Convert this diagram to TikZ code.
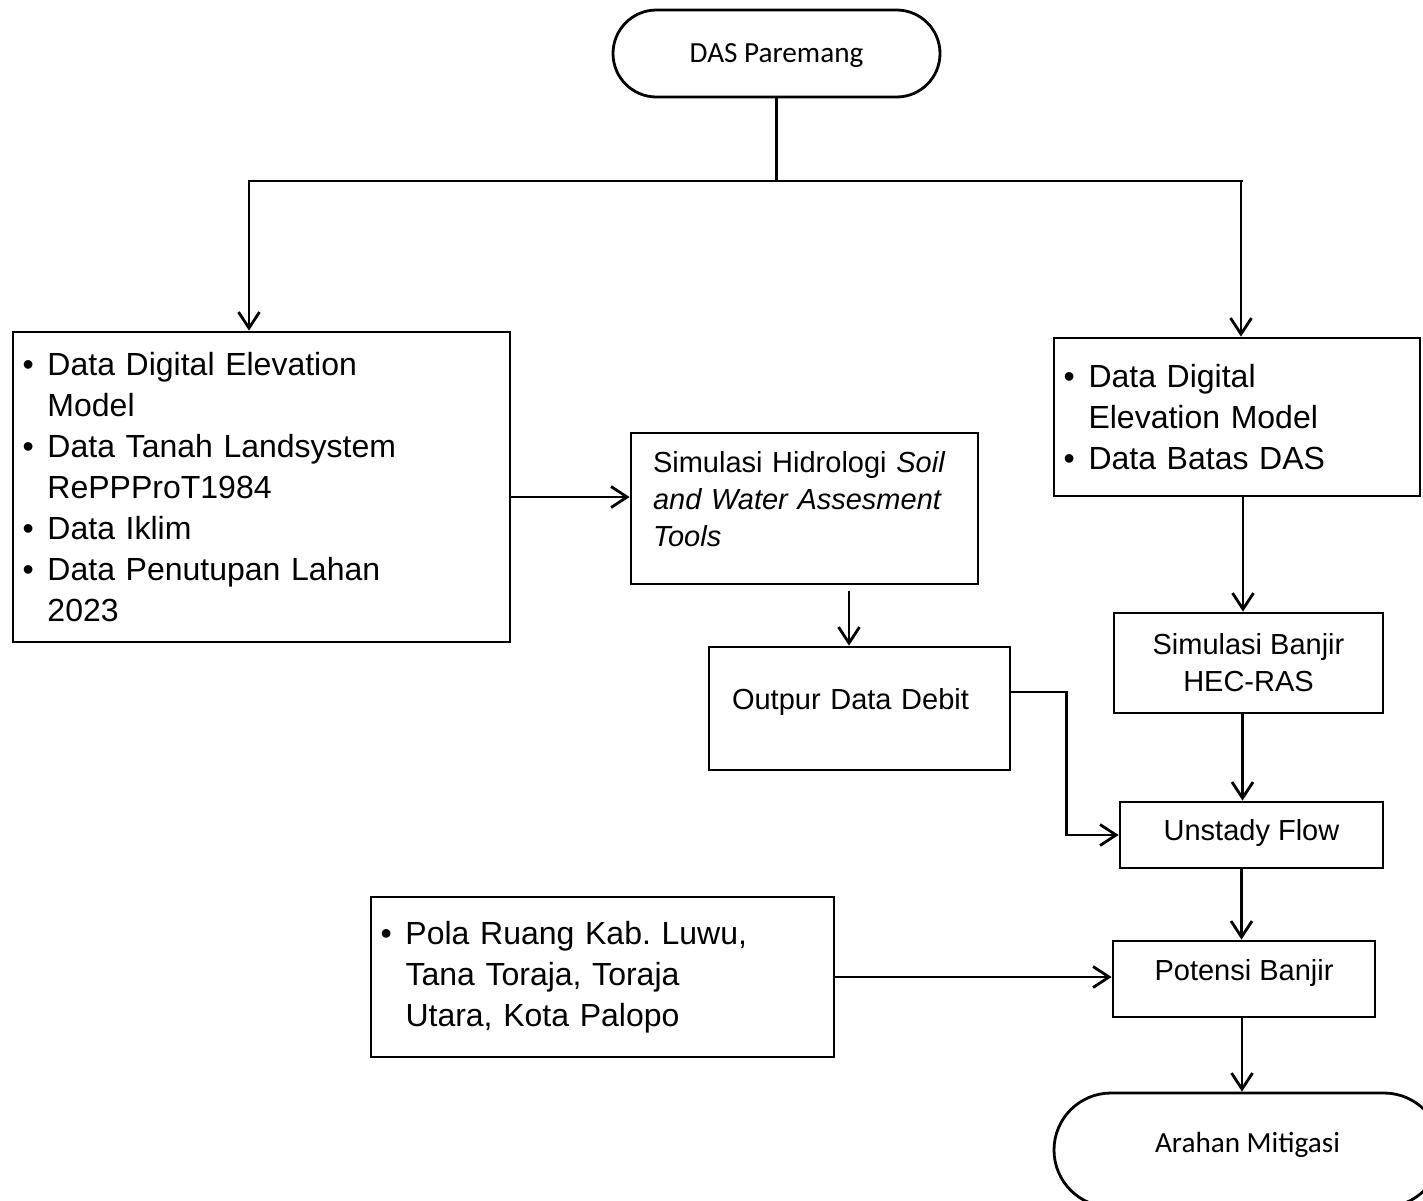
\documentclass[tikz,border=0pt]{standalone}
\usepackage{fontspec}
\setmainfont{Liberation Sans}
\newfontfamily\calibri{Carlito}
\usetikzlibrary{arrows.meta}
\frenchspacing

\newcommand{\bul}{\makebox[12.5pt][l]{\textbullet}}
\newcommand{\ind}{\hspace*{12.5pt}}

\tikzset{
	kotak/.style={draw, line width=1.4pt, inner ysep=0pt},
	terminal/.style={draw, line width=1.4pt, rounded corners=#1, inner sep=0pt, font=\calibri\fontsize{14.6}{17}\selectfont},
	panah/.style={line width=1.4pt, -{Straight Barb[length=8pt,width=10.5pt]}},
	garis/.style={line width=1.4pt},
	besar/.style={font=\fontsize{16}{20.5}\selectfont},
	sedang/.style={font=\fontsize{14.5}{18.5}\selectfont}
}

\begin{document}
\begin{tikzpicture}[x=0.5pt, y=-0.5pt]
	\useasboundingbox (0,0) rectangle (1423,1200);
	%Mulai
	\node[terminal=21.75pt, minimum width=163.5pt, text height=26.25pt, text depth=17.25pt] (das) at (776.5,53.5) {DAS Paremang};

	%Data masukan
	\node[kotak, besar, inner xsep=4.75pt, minimum height=155pt, text width=239pt, align=left] (dataL) at (261.5,487)
		{\bul Data Digital Elevation\\ \ind Model\\ \bul Data Tanah Landsystem\\ \ind RePPProT1984\\ \bul Data Iklim\\ \bul Data Penutupan Lahan\\ \ind 2023};
	\node[kotak, besar, inner xsep=4.75pt, minimum height=79pt, text width=173.5pt, align=left] (dataR) at (1237,417)
		{\bul Data Digital\\ \ind Elevation Model\\ \bul Data Batas DAS};
	\node[kotak, besar, inner xsep=4.75pt, minimum height=80pt, text width=222pt, align=left] (pola) at (602.5,977)
		{\bul Pola Ruang Kab. Luwu,\\ \ind Tana Toraja, Toraja\\ \ind Utara, Kota Palopo};

	%Proses
	\node[kotak, sedang, inner xsep=11pt, text width=151.5pt, align=left, text height=19.5pt, text depth=56pt] (swat) at (804.5,508.5)
		{Simulasi Hidrologi \textit{Soil}\\ \textit{and Water Assesment}\\ \textit{Tools}};
	\node[kotak, sedang, inner xsep=11.5pt, text width=127.5pt, align=left, text height=31pt, text depth=30.5pt] (outp) at (859.5,708.5) {Outpur Data Debit};
	\node[kotak, sedang, minimum width=134.5pt, minimum height=50pt, align=center] (banjir) at (1248.5,663) {Simulasi Banjir\\HEC-RAS};
	\node[kotak, sedang, minimum width=131.5pt, text height=19.25pt, text depth=13.75pt] (unst) at (1251.5,835) {Unstady Flow};
	\node[kotak, sedang, minimum width=131pt, text height=19.75pt, text depth=18.25pt] (pot) at (1244,979) {Potensi Banjir};

	%Selesai
	\node[terminal=28.5pt, minimum width=193.5pt, text height=29.75pt, text depth=27.25pt] (arahan) at (1247.5,1150) {Arahan Mitigasi};

	%Garis cabang
	\coordinate (cabL) at (249,181);
	\coordinate (cabR) at (1241,181);
	\draw[garis] (das.south) -- (das.south |- cabL);
	\draw[panah] ([xshift=1pt]cabR) -- (cabL) -- (cabL |- dataL.north);
	\draw[panah] (cabR) -- (cabR |- dataR.north);

	%Panah antar kotak
	\coordinate (s1) at ([shift={(44.5,6)}]swat.south);
	\draw[panah] ([yshift=-5pt]dataL.east) -- ([yshift=-5pt]dataL.east -| swat.west);
	\draw[panah] (s1) -- (s1 |- outp.north);
	\draw[panah] ([xshift=3pt]dataR.south) -- ([xshift=3pt]dataR.south |- banjir.north);
	\draw[panah] ([xshift=-3pt]banjir.south) -- ([xshift=-3pt]banjir.south |- unst.north);
	\draw[panah] ([xshift=-5pt]unst.south) -- ([xshift=-5pt]unst.south |- pot.north);
	\draw[panah] ([xshift=-1pt]pot.south) -- ([xshift=-1pt]pot.south |- arahan.north);
	\draw[panah] ([yshift=8.25pt]outp.east) -- ++(55,0) |- (unst.west);
	\draw[panah] (pola.east) -- (pola.east -| pot.west);
\end{tikzpicture}
\end{document}
